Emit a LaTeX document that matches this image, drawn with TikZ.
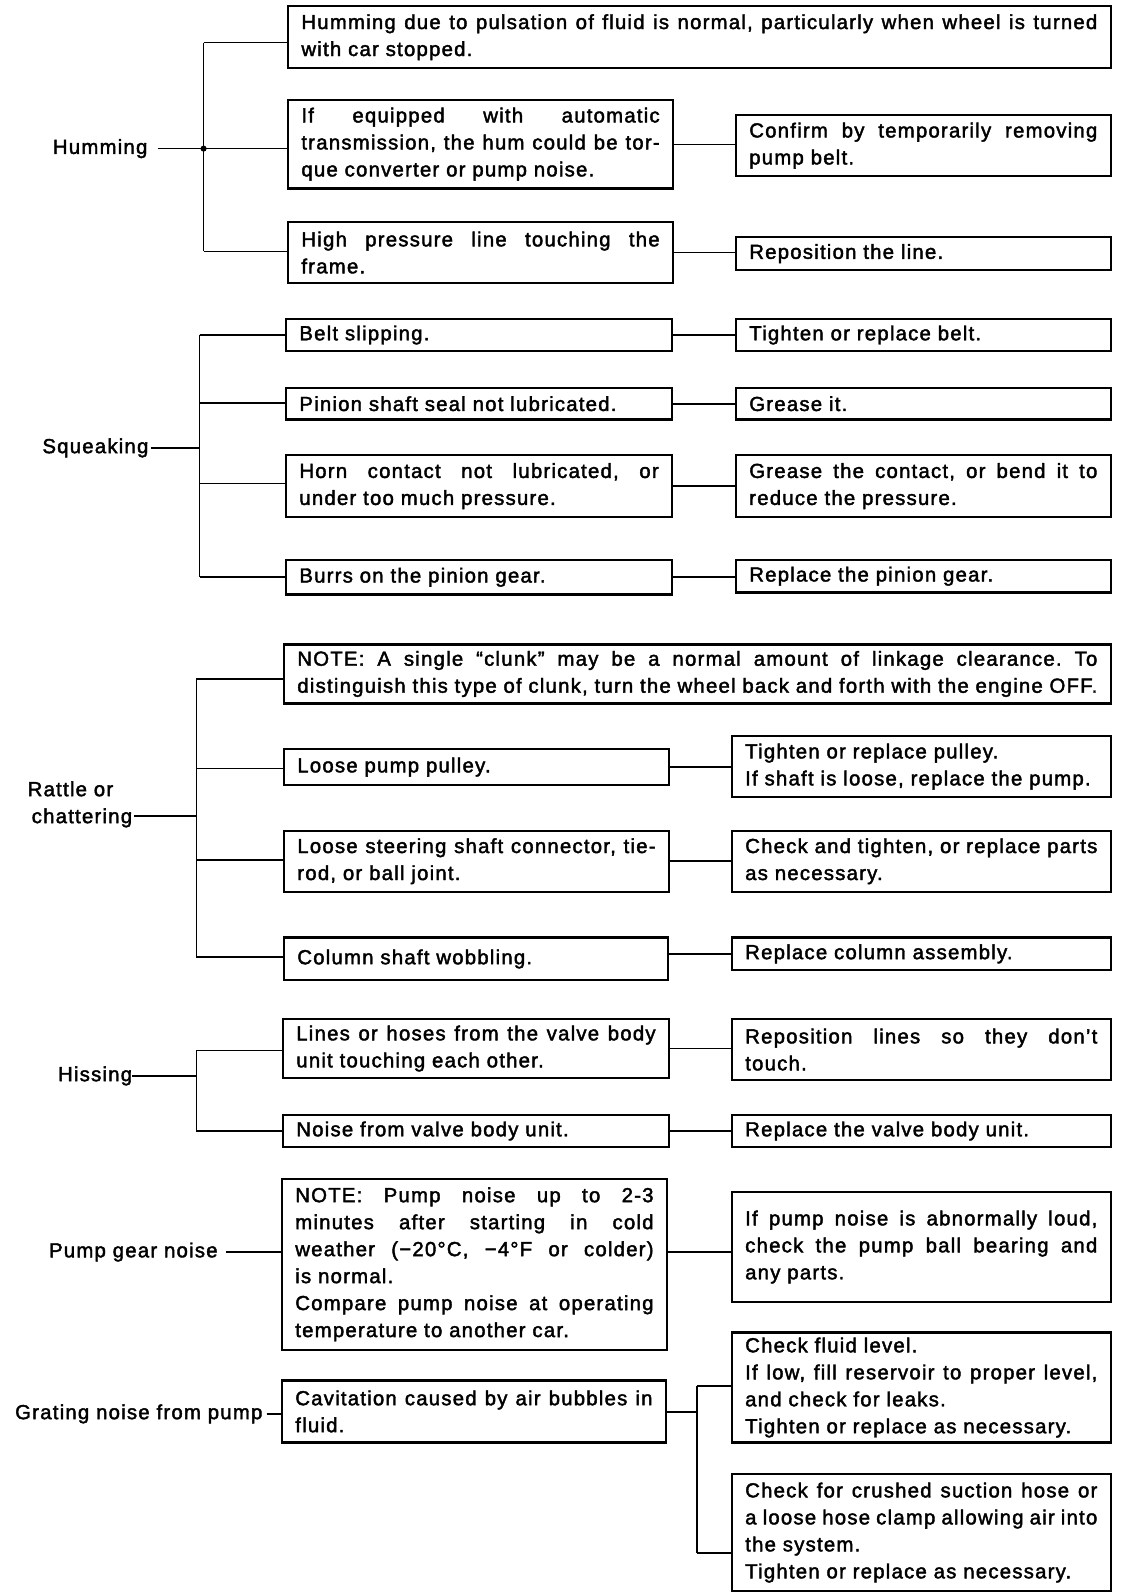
\documentclass[tikz,border=0pt]{standalone}
\usepackage{fontspec}
\setmainfont{Liberation Sans}[LetterSpace=6,FakeBold=2]
\newcommand\fsz{\fontsize{20}{26.5}\selectfont\frenchspacing}
\tikzset{
  box/.style={draw, line width=2.2pt, rectangle, anchor=north west, inner xsep=13pt, inner ysep=0pt, font=\fsz, align=justify},
  lbl/.style={font=\fsz, inner sep=0pt},
  conn/.style={line width=1.8pt},
  thinconn/.style={line width=1.2pt}
}
\begin{document}
\begin{tikzpicture}[x=1pt,y=-1pt]
\useasboundingbox (0,0) rectangle (1116,1564);
% ---------------- Humming
\node[box, text width=782pt, minimum height=61pt] (h1) at (282,5) {Humming due to pulsation of fluid is normal, particularly when wheel is turned\linebreak with car stopped.};
\node[box, text width=352pt, minimum height=87pt] (h2) at (282,97) {If equipped with automatic\linebreak transmission, the hum could be tor-\linebreak que converter or pump noise.};
\node[box, text width=342pt, minimum height=60pt] (h2r) at (722,112) {Confirm by temporarily removing\linebreak pump belt.};
\node[box, text width=352pt, minimum height=60pt] (h3) at (282,217) {High pressure line touching the\linebreak frame.};
\node[box, text width=342pt, minimum height=32pt] (h3r) at (722,232) {Reposition the line.};
\node[lbl, anchor=east] (hum) at (145,146) {Humming};
\coordinate (hj) at (200,146);
\coordinate (hj1) at (200,42);
\coordinate (hj3) at (200,247);
\draw[thinconn] ([xshift=10pt]hum.east) -- (hj);
\draw[thinconn] (hj1) -- (hj3);
\draw[thinconn] (hj1) -- (hj1 -| h1.west);
\draw[thinconn] (hj) -- (hj -| h2.west);
\draw[thinconn] (hj3) -- (hj3 -| h3.west);
\fill (hj) circle (3);
\draw[thinconn] (h2.east) -- (h2.east -| h2r.west);
\draw[conn] (h3.east) -- (h3.east -| h3r.west);
% ---------------- Squeaking
\node[box, text width=353pt, minimum height=32pt] (s1) at (280,312) {Belt slipping.};
\node[box, text width=342pt, minimum height=32pt] (s1r) at (722,312) {Tighten or replace belt.};
\node[box, text width=353pt, minimum height=31pt] (s2) at (280,380) {Pinion shaft seal not lubricated.};
\node[box, text width=342pt, minimum height=31pt] (s2r) at (722,380) {Grease it.};
\node[box, text width=353pt, minimum height=61pt] (s3) at (280,446) {Horn contact not lubricated, or\linebreak under too much pressure.};
\node[box, text width=342pt, minimum height=61pt] (s3r) at (722,446) {Grease the contact, or bend it to\linebreak reduce the pressure.};
\node[box, text width=353pt, minimum height=34pt] (s4) at (280,549) {Burrs on the pinion gear.};
\node[box, text width=342pt, minimum height=32pt] (s4r) at (722,549) {Replace the pinion gear.};
\node[lbl, anchor=east] (sq) at (146,440) {Squeaking};
\coordinate (sj) at (196,440);
\coordinate (sj1) at (196,329);
\coordinate (sj2) at (196,396);
\coordinate (sj3) at (196,475);
\coordinate (sj4) at (196,567);
\draw[conn] ([xshift=2pt]sq.east) -- (sj);
\draw[conn] (sj1) -- (sj4);
\foreach \j/\b in {sj1/s1, sj2/s2, sj3/s3, sj4/s4} \draw[conn] (\j) -- (\j -| \b.west);
\foreach \a/\b in {s1/s1r, s2/s2r, s3/s3r, s4/s4r} \draw[conn] (\a.east) -- (\a.east -| \b.west);
% ---------------- Rattle
\node[box, text width=786pt, minimum height=58pt] (r1) at (278,632) {NOTE: A single “clunk” may be a normal amount of linkage clearance. To\linebreak distinguish this type of clunk, turn the wheel back and forth with the engine OFF.};
\node[box, text width=352pt, minimum height=35pt] (r2) at (278,735) {Loose pump pulley.};
\node[box, text width=346pt, minimum height=60pt] (r2r) at (718,722) {Tighten or replace pulley.\\ If shaft is loose, replace the pump.};
\node[box, text width=352pt, minimum height=60pt] (r3) at (278,815) {Loose steering shaft connector, tie-\linebreak rod, or ball joint.};
\node[box, text width=346pt, minimum height=60pt] (r3r) at (718,815) {Check and tighten, or replace parts\linebreak as necessary.};
\node[box, text width=351pt, minimum height=42pt] (r4) at (278,920) {Column shaft wobbling.};
\node[box, text width=346pt, minimum height=32pt] (r4r) at (718,920) {Replace column assembly.};
\node[lbl, align=left, anchor=south west] (rat) at (27,813) {Rattle or\\\hspace*{4pt}chattering};
\coordinate (rj) at (193,802);
\coordinate (rj1) at (193,667);
\coordinate (rj2) at (193,755);
\coordinate (rj3) at (193,845);
\coordinate (rj4) at (193,940);
\draw[conn] (rat.east |- rj) ++(2,0) -- (rj);
\draw[conn] (rj1) -- (rj4);
\foreach \j/\b in {rj1/r1, rj2/r2, rj3/r3, rj4/r4} \draw[conn] (\j) -- (\j -| \b.west);
\draw[conn] (r2.east) -- (r2.east -| r2r.west);
\draw[conn] (r3.east) -- (r3.east -| r3r.west);
\draw[conn] (r4r.west -| r4.east) -- (r4r.west);
% ---------------- Hissing
\node[box, text width=353pt, minimum height=58pt] (i1) at (277,1000) {Lines or hoses from the valve body\linebreak unit touching each other.};
\node[box, text width=346pt, minimum height=60pt] (i1r) at (718,1000) {Reposition lines so they don’t\linebreak touch.};
\node[box, text width=353pt, minimum height=32pt] (i2) at (277,1094) {Noise from valve body unit.};
\node[box, text width=346pt, minimum height=32pt] (i2r) at (718,1094) {Replace the valve body unit.};
\node[lbl, anchor=east] (his) at (130,1057) {Hissing};
\coordinate (ij) at (193,1057);
\coordinate (ij1) at (193,1032);
\coordinate (ij2) at (193,1111);
\draw[conn] (his.east) -- (ij);
\draw[conn] (ij1) -- (ij2);
\draw[conn] (ij1) -- (ij1 -| i1.west);
\draw[conn] (ij2) -- (ij2 -| i2.west);
\draw[conn] (i1.east) -- (i1.east -| i1r.west);
\draw[conn] (i2.east) -- (i2.east -| i2r.west);
% ---------------- Pump gear noise
\node[box, text width=352pt, minimum height=168pt] (p1) at (276,1157) {NOTE: Pump noise up to 2-3\linebreak minutes after starting in cold\linebreak weather (−20°C, −4°F or colder)\linebreak is normal.\\ Compare pump noise at operating\linebreak temperature to another car.};
\node[box, text width=346pt, minimum height=108pt] (p1r) at (718,1170) {If pump noise is abnormally loud,\linebreak check the pump ball bearing and\linebreak any parts.};
\node[lbl, anchor=east] (pgn) at (214,1230) {Pump gear noise};
\coordinate (pj) at (222,1230);
\draw[thinconn] (pj) -- (pj -| p1.west);
\draw[thinconn] (p1.east |- pj) -- (p1r.west |- pj);
% ---------------- Grating noise
\node[box, text width=351pt, minimum height=61pt] (g1) at (276,1355) {Cavitation caused by air bubbles in\linebreak fluid.};
\node[box, text width=346pt, minimum height=108pt] (g2) at (718,1308) {Check fluid level.\\ If low, fill reservoir to proper level,\linebreak and check for leaks.\\ Tighten or replace as necessary.};
\node[box, text width=346pt, minimum height=115pt] (g3) at (718,1447) {Check for crushed suction hose or\linebreak a loose hose clamp allowing air into\linebreak the system.\\ Tighten or replace as necessary.};
\node[lbl, anchor=east] (grn) at (258,1389) {Grating noise from pump};
\draw[conn] ([xshift=4pt]grn.east) -- (grn.east -| g1.west);
\coordinate (gj) at (685,1387);
\coordinate (gj1) at (685,1362);
\coordinate (gj2) at (685,1526);
\draw[conn] (g1.east |- gj) -- (gj);
\draw[conn] (gj1) -- (gj2);
\draw[conn] (gj1) -- (gj1 -| g2.west);
\draw[conn] (gj2) -- (gj2 -| g3.west);
\end{tikzpicture}
\end{document}
